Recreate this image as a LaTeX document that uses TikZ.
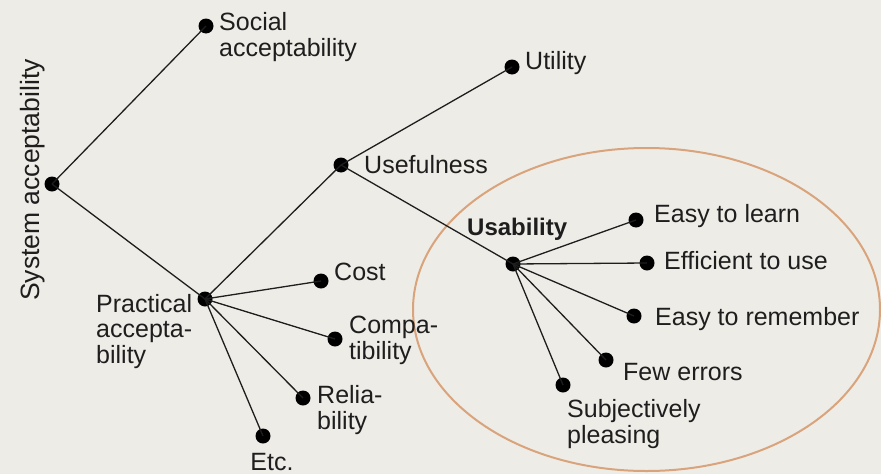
\documentclass[tikz,border=0pt]{standalone}
\usepackage{fontspec}
\setmainfont{Liberation Sans}
\definecolor{bgc}{HTML}{EEECE7}
\definecolor{ringc}{HTML}{D9A47C}
\definecolor{inkc}{HTML}{1E1E1E}
\begin{document}
\begin{tikzpicture}[x=1pt,y=-1pt,
  dot/.style={circle,fill=black,inner sep=0pt,minimum size=15pt},
  lbl/.style={anchor=base west,inner sep=0pt,font=\fontsize{25}{25.5}\selectfont,text=inkc,align=left},
  edge/.style={draw=inkc,line width=1.3pt}]
\fill[bgc] (0,0) rectangle (881,474);
\useasboundingbox (0,0) rectangle (881,474);
% ellipse
\draw[ringc,line width=2pt] (646.5,309.5) ellipse [x radius=233.5pt,y radius=161.5pt];
% dots
\node[dot] (sys) at (52,184) {};
\node[dot] (soc) at (206,26) {};
\node[dot] (prac) at (205,299) {};
\node[dot] (usef) at (341,165) {};
\node[dot] (util) at (512,67) {};
\node[dot] (usab) at (513,264) {};
\node[dot] (cost) at (321,281) {};
\node[dot] (comp) at (335,339) {};
\node[dot] (reli) at (303,398) {};
\node[dot] (etc) at (263,436) {};
\node[dot] (learn) at (636,220) {};
\node[dot] (eff) at (647,263) {};
\node[dot] (rem) at (634,316) {};
\node[dot] (err) at (606,360) {};
\node[dot] (subj) at (563,385) {};
% connectors
\draw[edge] (sys.center) -- (soc.center);
\draw[edge] (sys.center) -- (prac.center);
\draw[edge] (prac.center) -- (usef.center);
\draw[edge] (usef.center) -- (util.center);
\draw[edge] (usef.center) -- (usab.center);
\draw[edge] (prac.center) -- (cost.center);
\draw[edge] (prac.center) -- (comp.center);
\draw[edge] (prac.center) -- (reli.center);
\draw[edge] (prac.center) -- (etc.center);
\draw[edge] (usab.center) -- (learn.center);
\draw[edge] (usab.center) -- (eff.center);
\draw[edge] (usab.center) -- (rem.center);
\draw[edge] (usab.center) -- (err.center);
\draw[edge] (usab.center) -- (subj.center);
% labels
\node[lbl,rotate=90,anchor=base,font=\fontsize{26.5}{27}\selectfont] (tsys) at (39,180) {System acceptability};
\node[lbl] (tsoc) at (219,56) {Social\\acceptability};
\node[lbl] (tprac) at (96,363) {Practical\\accepta-\\bility};
\node[lbl] (tusef) at (364,173) {Usefulness};
\node[lbl] (tutil) at (525,69) {Utility};
\node[lbl] (tcost) at (334,280) {Cost};
\node[lbl] (tcomp) at (349,359) {Compa-\\tibility};
\node[lbl] (treli) at (317,429) {Relia-\\bility};
\node[lbl,anchor=base] (tetc) at (272,470) {Etc.};
\node[lbl,font=\fontsize{24}{25.5}\selectfont\bfseries] (tusab) at (467,235) {Usability};
\node[lbl] (tlearn) at (654,222) {Easy to learn};
\node[lbl] (teff) at (664,269) {Efficient to use};
\node[lbl] (trem) at (655,325) {Easy to remember};
\node[lbl] (terr) at (623,380) {Few errors};
\node[lbl] (tsubj) at (567,443) {Subjectively\\pleasing};
\end{tikzpicture}
\end{document}
